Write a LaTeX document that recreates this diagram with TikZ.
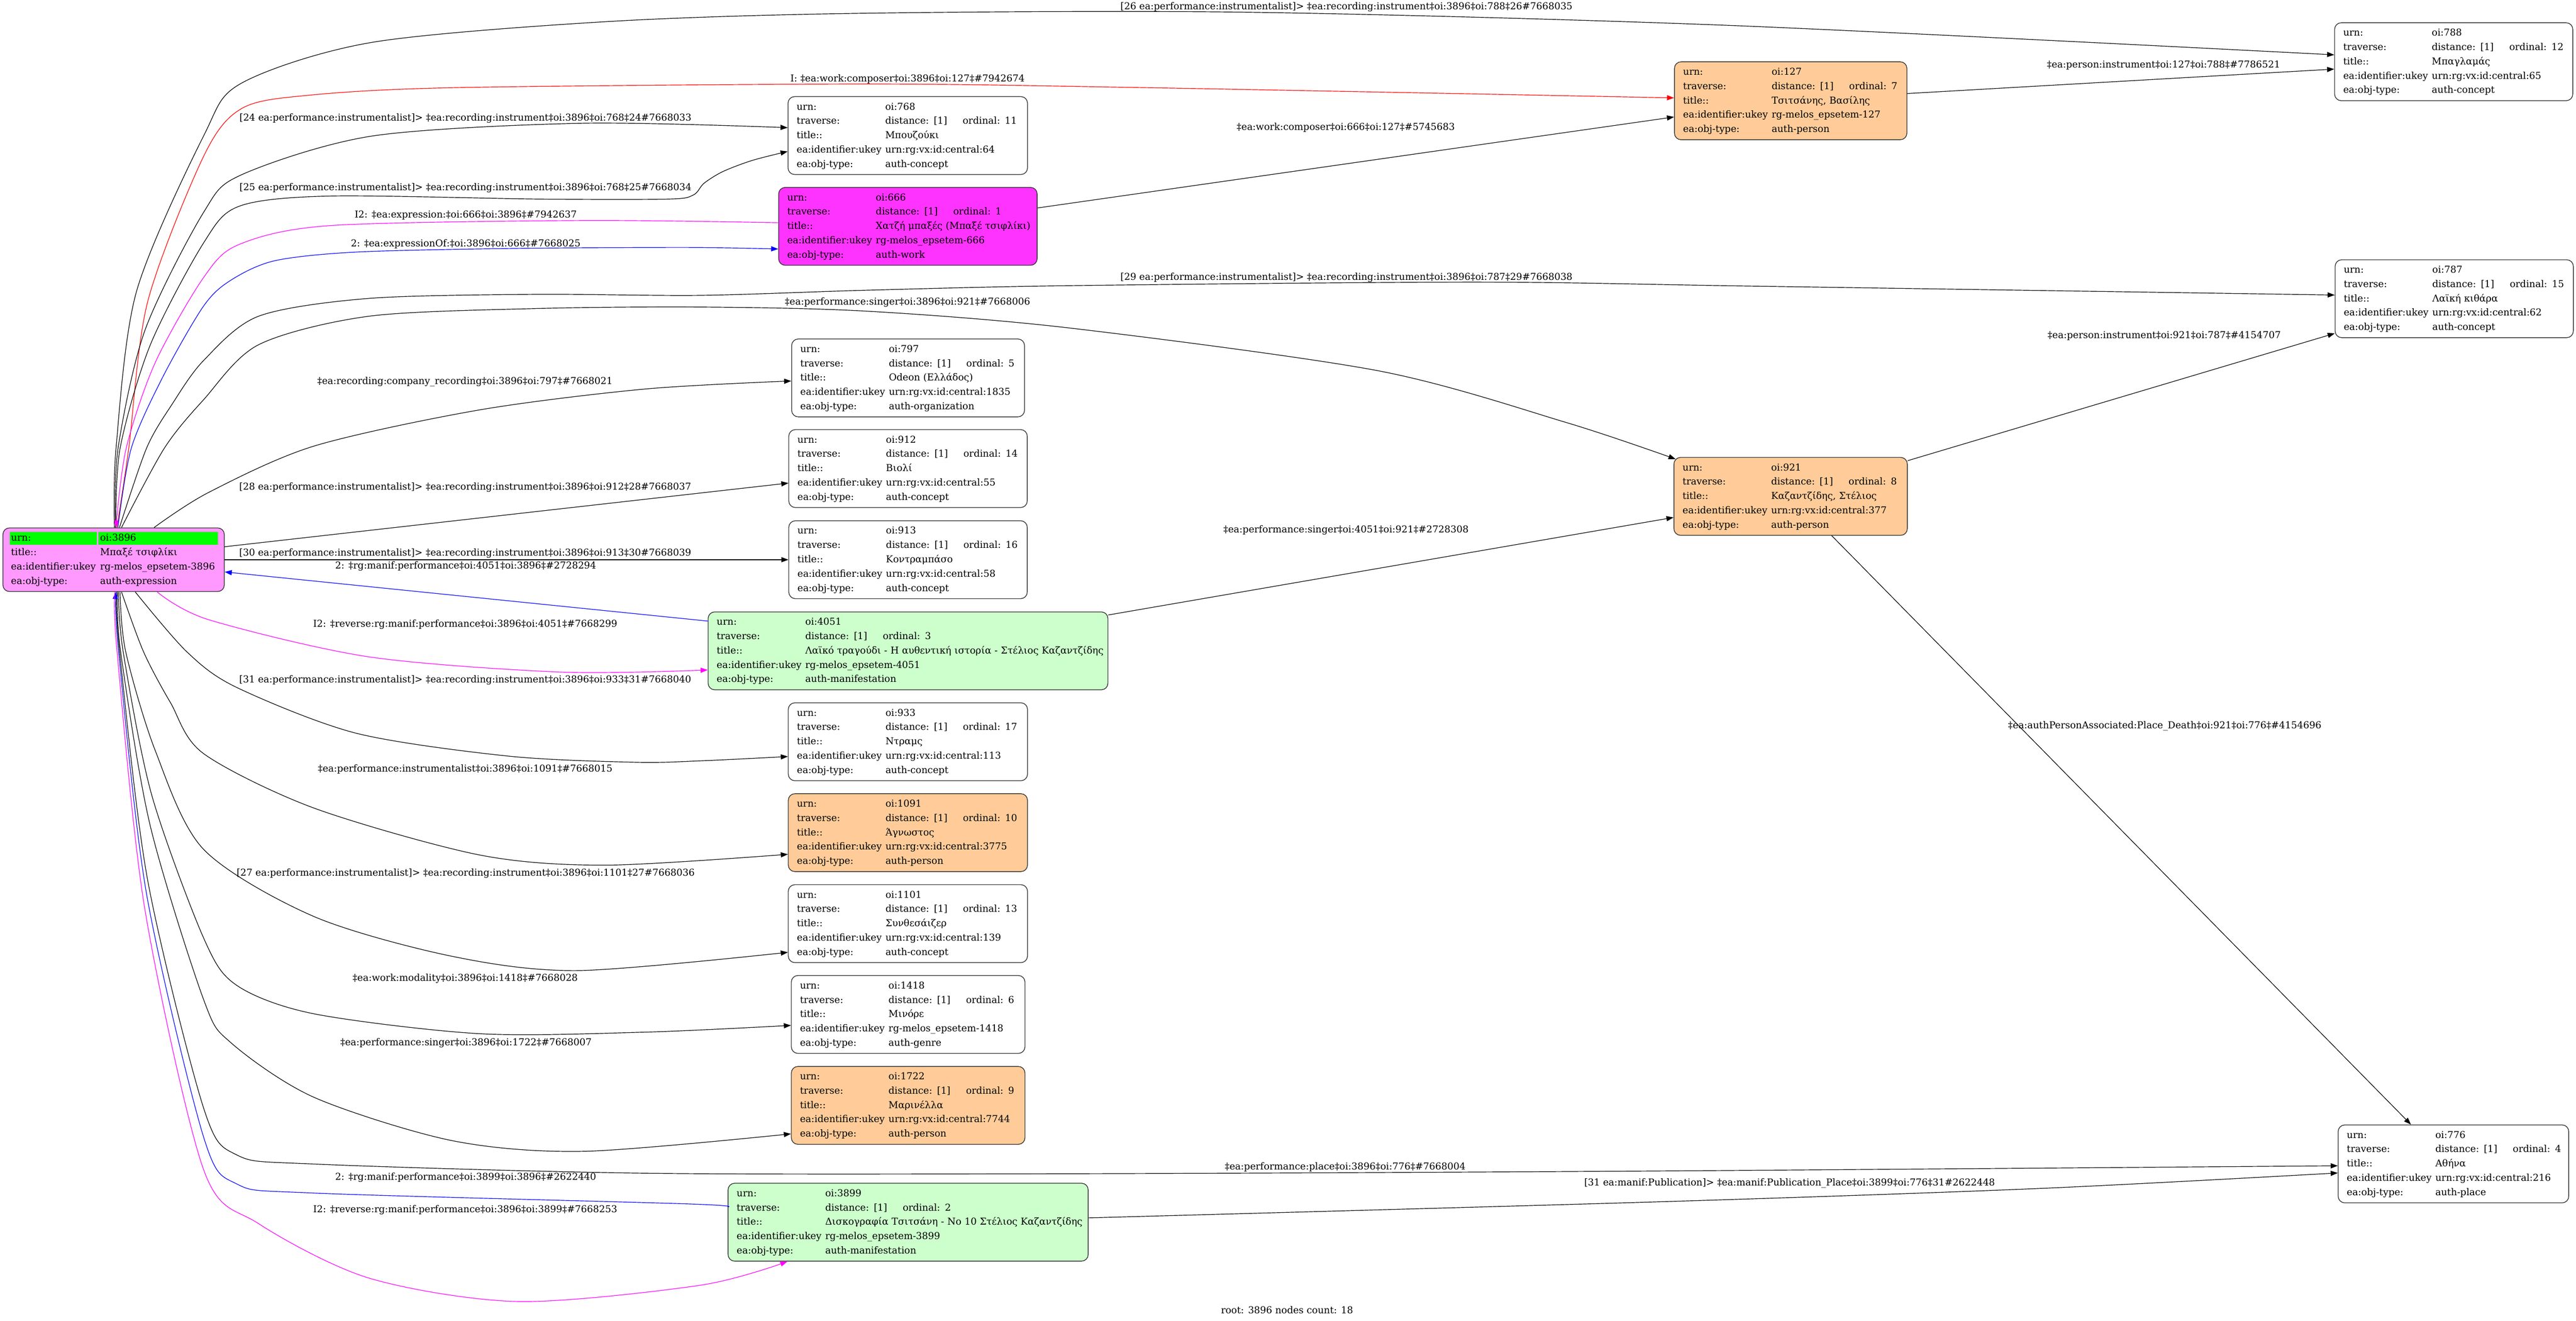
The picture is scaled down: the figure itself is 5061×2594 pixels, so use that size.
\documentclass[tikz,border=0pt]{standalone}
\usepackage{fontspec}
\setmainfont{DejaVu Serif}
\usetikzlibrary{arrows.meta}
\definecolor{rootpink}{HTML}{FF99FF}
\definecolor{workmag}{HTML}{FF33FF}
\definecolor{peach}{HTML}{FFCC99}
\definecolor{manif}{HTML}{CCFFCC}
\definecolor{cellgreen}{HTML}{00FF00}
\definecolor{bord}{HTML}{333333}
\definecolor{lnred}{HTML}{FF0000}
\definecolor{lnblue}{HTML}{0000FF}
\definecolor{lnmag}{HTML}{FF00FF}
\setlength{\fboxsep}{0pt}
\newcommand\nodefont{\fontsize{18.67}{28.1}\selectfont}
\newcommand\nlab[1]{\makebox[174pt][l]{#1}}
\newcommand\nrow[2]{\mbox{\strut\nlab{#1}#2}}
\newcommand\rrow[2]{\mbox{\strut\makebox[175pt][l]{#1}#2}}
\newcommand\ntrav[1]{\nrow{traverse:}{distance: [1]\hspace{30.5pt}ordinal: #1}}
\newcommand\gcell[2]{\colorbox{cellgreen}{\raisebox{0pt}[17.6pt][7.4pt]{\makebox[#1][l]{#2}}}}
\tikzset{
  nbox/.style={draw=bord, line width=1.4pt, rounded corners=13pt, anchor=north west,
    inner xsep=17pt, inner ysep=0pt, minimum height=153pt, align=left, font=\nodefont},
  elab/.style={font=\fontsize{18.67}{22}\selectfont, inner sep=0pt},
  conn/.style={line width=1.2pt, -{Triangle[length=14pt,width=10pt]}},
}
\begin{document}
\begin{tikzpicture}[x=1pt,y=-1pt]
\useasboundingbox (0,0) rectangle (5061,2594);

% ---------- nodes ----------
\node[nbox, fill=rootpink, inner xsep=16pt, text width=403pt, minimum height=125pt] (root) at (5,1036)
 {\mbox{\strut\hspace*{-2pt}\gcell{171pt}{\hspace{2pt}urn:}\hspace{3pt}\gcell{234pt}{\hspace{3pt}oi:3896}}\\
  \rrow{title::}{Μπαξέ τσιφλίκι}\\
  \rrow{ea:identifier:ukey}{rg-melos\_epsetem-3896}\\
  \rrow{ea:obj-type:}{auth-expression}};

\node[nbox, fill=white, text width=436.5pt] (n768) at (1547.5,189)
 {\nrow{urn:}{oi:768}\\ \ntrav{11}\\ \nrow{title::}{Μπουζούκι}\\ \nrow{ea:identifier:ukey}{urn:rg:vx:id:central:64}\\ \nrow{ea:obj-type:}{auth-concept}};

\node[nbox, fill=workmag, text width=474pt] (n666) at (1529,367.3)
 {\nrow{urn:}{oi:666}\\ \ntrav{1}\\ \nrow{title::}{Χατζή μπαξές (Μπαξέ τσιφλίκι)}\\ \nrow{ea:identifier:ukey}{rg-melos\_epsetem-666}\\ \nrow{ea:obj-type:}{auth-work}};

\node[nbox, fill=white, text width=423.5pt] (n797) at (1554.6,665)
 {\nrow{urn:}{oi:797}\\ \ntrav{5}\\ \nrow{title::}{Odeon (Ελλάδος)}\\ \nrow{ea:identifier:ukey}{urn:rg:vx:id:central:1835}\\ \nrow{ea:obj-type:}{auth-organization}};

\node[nbox, fill=white, text width=434.5pt] (n912) at (1549,843)
 {\nrow{urn:}{oi:912}\\ \ntrav{14}\\ \nrow{title::}{Βιολί}\\ \nrow{ea:identifier:ukey}{urn:rg:vx:id:central:55}\\ \nrow{ea:obj-type:}{auth-concept}};

\node[nbox, fill=white, text width=434.5pt] (n913) at (1549,1022)
 {\nrow{urn:}{oi:913}\\ \ntrav{16}\\ \nrow{title::}{Κοντραμπάσο}\\ \nrow{ea:identifier:ukey}{urn:rg:vx:id:central:58}\\ \nrow{ea:obj-type:}{auth-concept}};

\node[nbox, fill=manif, text width=751.5pt] (n4051) at (1390.5,1201)
 {\nrow{urn:}{oi:4051}\\ \ntrav{3}\\ \nrow{title::}{Λαϊκό τραγούδι - Η αυθεντική ιστορία - Στέλιος Καζαντζίδης}\\ \nrow{ea:identifier:ukey}{rg-melos\_epsetem-4051}\\ \nrow{ea:obj-type:}{auth-manifestation}};

\node[nbox, fill=white, text width=436pt] (n933) at (1548,1379.5)
 {\nrow{urn:}{oi:933}\\ \ntrav{17}\\ \nrow{title::}{Ντραμς}\\ \nrow{ea:identifier:ukey}{urn:rg:vx:id:central:113}\\ \nrow{ea:obj-type:}{auth-concept}};

\node[nbox, fill=peach, text width=436pt] (n1091) at (1548,1558)
 {\nrow{urn:}{oi:1091}\\ \ntrav{10}\\ \nrow{title::}{Άγνωστος}\\ \nrow{ea:identifier:ukey}{urn:rg:vx:id:central:3775}\\ \nrow{ea:obj-type:}{auth-person}};

\node[nbox, fill=white, text width=436pt] (n1101) at (1548,1736.7)
 {\nrow{urn:}{oi:1101}\\ \ntrav{13}\\ \nrow{title::}{Συνθεσάιζερ}\\ \nrow{ea:identifier:ukey}{urn:rg:vx:id:central:139}\\ \nrow{ea:obj-type:}{auth-concept}};

\node[nbox, fill=white, text width=425pt] (n1418) at (1554,1915)
 {\nrow{urn:}{oi:1418}\\ \ntrav{6}\\ \nrow{title::}{Μινόρε}\\ \nrow{ea:identifier:ukey}{rg-melos\_epsetem-1418}\\ \nrow{ea:obj-type:}{auth-genre}};

\node[nbox, fill=peach, text width=425pt] (n1722) at (1554,2093.6)
 {\nrow{urn:}{oi:1722}\\ \ntrav{9}\\ \nrow{title::}{Μαρινέλλα}\\ \nrow{ea:identifier:ukey}{urn:rg:vx:id:central:7744}\\ \nrow{ea:obj-type:}{auth-person}};

\node[nbox, fill=manif, text width=673.5pt] (n3899) at (1429.7,2323)
 {\nrow{urn:}{oi:3899}\\ \ntrav{2}\\ \nrow{title::}{Δισκογραφία Τσιτσάνη - No 10 Στέλιος Καζαντζίδης}\\ \nrow{ea:identifier:ukey}{rg-melos\_epsetem-3899}\\ \nrow{ea:obj-type:}{auth-manifestation}};

\node[nbox, fill=peach, text width=422.7pt] (n127) at (3289,120.7)
 {\nrow{urn:}{oi:127}\\ \ntrav{7}\\ \nrow{title::}{Τσιτσάνης, Βασίλης}\\ \nrow{ea:identifier:ukey}{rg-melos\_epsetem-127}\\ \nrow{ea:obj-type:}{auth-person}};

\node[nbox, fill=peach, text width=424.5pt] (n921) at (3288,897.6)
 {\nrow{urn:}{oi:921}\\ \ntrav{8}\\ \nrow{title::}{Καζαντζίδης, Στέλιος}\\ \nrow{ea:identifier:ukey}{urn:rg:vx:id:central:377}\\ \nrow{ea:obj-type:}{auth-person}};

\node[nbox, fill=white, text width=434pt] (n788) at (4586,44)
 {\nrow{urn:}{oi:788}\\ \ntrav{12}\\ \nrow{title::}{Μπαγλαμάς}\\ \nrow{ea:identifier:ukey}{urn:rg:vx:id:central:65}\\ \nrow{ea:obj-type:}{auth-concept}};

\node[nbox, fill=white, text width=434pt] (n787) at (4587,509.4)
 {\nrow{urn:}{oi:787}\\ \ntrav{15}\\ \nrow{title::}{Λαϊκή κιθάρα}\\ \nrow{ea:identifier:ukey}{urn:rg:vx:id:central:62}\\ \nrow{ea:obj-type:}{auth-concept}};

\node[nbox, fill=white, text width=419pt] (n776) at (4593,2208.5)
 {\nrow{urn:}{oi:776}\\ \ntrav{4}\\ \nrow{title::}{Αθήνα}\\ \nrow{ea:identifier:ukey}{urn:rg:vx:id:central:216}\\ \nrow{ea:obj-type:}{auth-place}};

% ---------- connectors from the top of the root ----------
\draw[conn] plot[smooth] coordinates {([xshift=1.5pt]root.north) (228,880) (268,573) (400,267) (475,163) (732,83) (1200,42) (1700,26) (2450,24) (3400,50) ([yshift=13.5pt]n788.west)};
\draw[conn, lnred] plot[smooth] coordinates {([xshift=6.5pt]root.north) (253,880) (290,593) (400,307) (475,213) (607,187) (900,172) (1700,165) (2242,172) ([yshift=5.7pt]n127.west)};
\draw[conn] plot[smooth] coordinates {([xshift=3.5pt]root.north) (232,880) (285,648) (400,417) (475,343) (732,267) (1146,242) ([yshift=15.5pt]n768.west)};
\draw[conn] plot[smooth] coordinates {([xshift=4.5pt]root.north) (236,880) (295,678) (400,477) (470,405) (649,385) (1063,391) (1312,391) (1362,383) (1383,360) (1420,337) (1478,315) ([yshift=-31.2pt]n768.west)};
\draw[conn, lnmag] plot[smooth] coordinates {([yshift=7.1pt]n666.west) (1146,433) (649,443) (470,480) (400,545) (305,712) (248,880) ([xshift=4.5pt]root.north)};
\draw[conn, lnblue] plot[smooth] coordinates {([xshift=8.5pt]root.north) (258,880) (320,740) (400,601) (454,550) (540,512) (700,495) (1000,488) (1350,486) ([yshift=-44.5pt]n666.west)};
\draw[conn] plot[smooth] coordinates {([xshift=11.5pt]root.north) (288,880) (338,794) (400,708) (508,621) (725,586) (1050,578) (1376,580) (1701,570) (2100,561) (2900,554) (3449,562) ([yshift=7.2pt]n787.west)};
\draw[conn] plot[smooth] coordinates {([xshift=15.5pt]root.north) (323,880) (400,785) (508,677) (725,621) (1050,606) (1376,603) (1701,611) (2100,644) (2707,728) (3078,830) ([xshift=4pt,yshift=-4pt]n921.north west)};
\draw[conn] plot[smooth] coordinates {([xshift=79.5pt]root.north) (410,967) (617,876) (942,805) (1267,764) ([yshift=-6pt]n797.west)};

% ---------- connectors from the right side ----------
\draw[conn] ([yshift=25.5pt]root.east) -- ([yshift=-28.5pt]n912.west);
\draw[conn] (root.east) -- (n913.west);
\draw[conn, lnblue] ([yshift=58.5pt]n4051.west) -- ([yshift=-24pt]root.east);

% ---------- connectors from the bottom of the root ----------
\draw[conn, lnmag] plot[smooth] coordinates {([xshift=85.5pt]root.south) (410,1217) (725,1290) (1105,1320) ([yshift=-37.5pt]n4051.west)};
\draw[conn] plot[smooth] coordinates {([xshift=42.5pt]root.south) (367,1280) (465,1350) (700,1440) (1000,1485) (1250,1497) (1380,1494) ([yshift=-29pt]n933.west)};
\draw[conn] plot[smooth] coordinates {([xshift=15.5pt]root.south) (282,1280) (335,1380) (400,1480) (617,1587) (942,1679) (1191,1699) ([yshift=-42.5pt]n1091.west)};
\draw[conn] plot[smooth] coordinates {([xshift=12.5pt]root.south) (247,1280) (305,1474) (400,1668) (617,1800) (888,1878) (1137,1906) ([yshift=-56.3pt]n1101.west)};
\draw[conn] plot[smooth] coordinates {([xshift=9.5pt]root.south) (242,1280) (298,1561) (400,1842) (465,1935) (617,1991) (942,2030) (1267,2027) ([yshift=-21.5pt]n1418.west)};
\draw[conn] plot[smooth] coordinates {([xshift=7.5pt]root.south) (237,1280) (295,1621) (400,1963) (454,2048) (617,2155) (888,2240) (1148,2261) ([yshift=-55.9pt]n1722.west)};
\draw[conn] plot[smooth] coordinates {([xshift=5.5pt]root.south) (235,1280) (290,1728) (400,2176) (465,2268) (617,2286) (1267,2304) (2100,2305) (3200,2300) ([yshift=-3.7pt]n776.west)};
\draw[conn, lnblue] plot[smooth] coordinates {([yshift=30pt]n3899.west) (1343,2364) (617,2343) (465,2325) (400,2233) (288,1756) (233,1280) ([xshift=4.5pt]root.south)};
\draw[conn, lnmag] plot[smooth] coordinates {([xshift=2.5pt]root.south) (230,1280) (285,1788) (400,2297) (508,2403) (725,2510) (1018,2556) (1376,2524) ([xshift=117.3pt]n3899.south west)};

% ---------- other connectors ----------
\draw[conn] ([yshift=36.1pt]n666.east) -- ([yshift=-31.8pt]n127.west);
\draw[conn] ([yshift=14.2pt]n127.east) -- ([yshift=-14.5pt]n788.west);
\draw[conn] ([yshift=70.1pt]n921.east) -- ([yshift=-68.1pt]n787.west);
\draw[conn] ([yshift=70.5pt]n4051.east) -- ([yshift=-41.4pt]n921.west);
\draw[conn] ([xshift=80.75pt]n921.south) -- ([xshift=-83.5pt]n776.north);
\draw[conn] plot[smooth] coordinates {([yshift=8.5pt]n3899.east) (3264,2360) (4006,2334) ([yshift=-17.8pt]n776.west)};

% ---------- labels ----------
\node[elab] (l26) at (2645.5,14) {[26 ea:performance:instrumentalist]> ‡ea:recording:instrument‡oi:3896‡oi:788‡26\#7668035};
\node[elab] (lred) at (1783,155) {I: ‡ea:work:composer‡oi:3896‡oi:127‡\#7942674};
\node[elab] (l24) at (914.5,232) {[24 ea:performance:instrumentalist]> ‡ea:recording:instrument‡oi:3896‡oi:768‡24\#7668033};
\node[elab] (lwc) at (2644,250) {‡ea:work:composer‡oi:666‡oi:127‡\#5745683};
\node[elab] (lpi1) at (4250.6,128) {‡ea:person:instrument‡oi:127‡oi:788‡\#7786521};
\node[elab] (l25) at (914.5,369.3) {[25 ea:performance:instrumentalist]> ‡ea:recording:instrument‡oi:3896‡oi:768‡25\#7668034};
\node[elab] (li2a) at (915,423) {I2: ‡ea:expression:‡oi:666‡oi:3896‡\#7942637};
\node[elab] (lexp) at (915,479) {2: ‡ea:expressionOf:‡oi:3896‡oi:666‡\#7668025};
\node[elab] (l29) at (2645.5,545) {[29 ea:performance:instrumentalist]> ‡ea:recording:instrument‡oi:3896‡oi:787‡29\#7668038};
\node[elab] (lsing) at (1783,594) {‡ea:performance:singer‡oi:3896‡oi:921‡\#7668006};
\node[elab] (lpi2) at (4252,660) {‡ea:person:instrument‡oi:921‡oi:787‡\#4154707};
\node[elab] (lcomp) at (913.5,750) {‡ea:recording:company\_recording‡oi:3896‡oi:797‡\#7668021};
\node[elab] (l28) at (914,956.6) {[28 ea:performance:instrumentalist]> ‡ea:recording:instrument‡oi:3896‡oi:912‡28\#7668037};
\node[elab] (lsing2) at (2644.5,1041) {‡ea:performance:singer‡oi:4051‡oi:921‡\#2728308};
\node[elab] (l30) at (914,1087) {[30 ea:performance:instrumentalist]> ‡ea:recording:instrument‡oi:3896‡oi:913‡30\#7668039};
\node[elab] (lm4051) at (915,1112) {2: ‡rg:manif:performance‡oi:4051‡oi:3896‡\#2728294};
\node[elab] (li2b) at (914,1226) {I2: ‡reverse:rg:manif:performance‡oi:3896‡oi:4051‡\#7668299};
\node[elab] (l31) at (914,1335.7) {[31 ea:performance:instrumentalist]> ‡ea:recording:instrument‡oi:3896‡oi:933‡31\#7668040};
\node[elab] (lpd) at (4253,1425.6) {‡ea:authPersonAssociated:Place\_Death‡oi:921‡oi:776‡\#4154696};
\node[elab] (l1091) at (914,1511) {‡ea:performance:instrumentalist‡oi:3896‡oi:1091‡\#7668015};
\node[elab] (l27) at (915,1715) {[27 ea:performance:instrumentalist]> ‡ea:recording:instrument‡oi:3896‡oi:1101‡27\#7668036};
\node[elab] (lmod) at (914,1922) {‡ea:work:modality‡oi:3896‡oi:1418‡\#7668028};
\node[elab] (ls1722) at (915.5,2047.7) {‡ea:performance:singer‡oi:3896‡oi:1722‡\#7668007};
\node[elab] (lplace) at (2642.8,2291.8) {‡ea:performance:place‡oi:3896‡oi:776‡\#7668004};
\node[elab] (lm3899) at (915,2312) {2: ‡rg:manif:performance‡oi:3899‡oi:3896‡\#2622440};
\node[elab] (lpub) at (3516,2324) {[31 ea:manif:Publication]> ‡ea:manif:Publication\_Place‡oi:3899‡oi:776‡31\#2622448};
\node[elab] (li2c) at (914,2376) {I2: ‡reverse:rg:manif:performance‡oi:3896‡oi:3899‡\#7668253};
\node[elab] (lfoot) at (2528.7,2572.8) {root: 3896 nodes count: 18};
\end{tikzpicture}
\end{document}
